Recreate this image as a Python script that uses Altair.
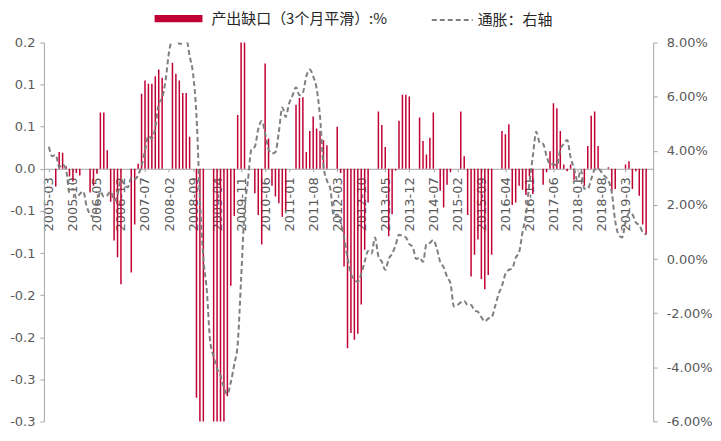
import json
import altair as alt
import pandas as pd

# ---------------- data ----------------
all_months = [f"{y}-{m:02d}" for y in range(2005, 2020) for m in range(1, 13)]
months = all_months[all_months.index("2005-03"): all_months.index("2019-09") + 1]

# output gap (3-month smoothed), left axis
gap = [
    0.0, 0.0, -0.021, 0.020, 0.019, 0.003, -0.009, -0.015, -0.005, -0.008,
    0.0, 0.0, -0.028, -0.020, -0.006, 0.067, 0.067, 0.022, -0.039, -0.085, -0.105, -0.137,
    0.0, 0.0, -0.123, -0.066, 0.006, 0.089, 0.105, 0.101, 0.101, 0.110, 0.118, 0.108,
    0.0, 0.0, 0.126, 0.113, 0.105, 0.090, 0.090, 0.038, 0.0, -0.272, -0.33, -0.34,
    0.0, 0.0, -0.35, -0.36, -0.34, -0.33, -0.27, -0.139, -0.056, 0.064, 0.19, 0.19,
    0.0, 0.0, -0.029, -0.055, -0.090, 0.125, 0.036, -0.020, -0.033, -0.041, -0.057, -0.049,
    0.0, 0.0, 0.076, 0.084, 0.085, 0.020, 0.045, 0.062, 0.048, 0.045, 0.034, 0.028,
    0.0, 0.0, 0.050, -0.005, -0.116, -0.213, -0.195, -0.203, -0.196, -0.161, -0.096, -0.040,
    0.0, 0.0, 0.068, 0.052, 0.026, -0.080, -0.054, -0.002, 0.057, 0.088, 0.088, 0.086,
    0.0, 0.0, 0.061, 0.033, 0.017, 0.037, 0.067, 0.0, -0.026, -0.046, -0.019, -0.004,
    0.0, 0.0, 0.068, 0.015, -0.055, -0.128, -0.102, -0.084, -0.131, -0.143, -0.126, -0.102,
    0.0, 0.0, 0.045, 0.041, 0.053, -0.043, -0.040, -0.020, -0.025, -0.031, -0.009, -0.030,
    0.0, 0.0, -0.019, -0.004, 0.021, 0.078, 0.072, 0.045, 0.005, -0.003, 0.005, -0.013,
    0.0, 0.0, -0.020, 0.027, 0.063, 0.068, 0.027, 0.0, 0.0, 0.002, -0.027, -0.024,
    0.0, 0.0, 0.005, 0.009, -0.024, -0.003, -0.032, -0.066, -0.078,
]

# inflation, right axis (%)
infl = [
    4.15, 3.8, 3.85, 3.4, 3.5, 3.3, 2.45, 2.6, 2.25, 2.4,
    2.5, 1.95, 1.65, 1.55, 1.9, 2.5, 2.3, 2.35, 2.5, 2.15, 2.35, 2.95,
    2.75, 2.65, 3.0, 2.95, 3.1, 3.45, 4.0, 4.55, 4.45, 4.85, 5.75, 5.95,
    6.6, 7.65, 8.15, 8.3, 7.95, 7.95, 8.15, 7.5, 6.85, 5.3, 2.2, 0.05,
    -1.15, -3.05, -3.6, -4.05, -4.3, -4.75, -5.0, -4.55, -3.9, -3.15, -0.75, 1.8,
    2.9, 4.05, 4.15, 4.8, 5.1, 4.65, 4.05, 3.9, 3.95, 4.7, 5.6, 5.25,
    5.75, 6.05, 6.35, 6.05, 6.15, 6.75, 7.0, 6.75, 6.3, 5.25, 3.45, 2.9,
    2.6, 1.6, 1.65, 1.35, 0.8, 0.05, -0.55, -0.75, -0.85, -0.55, -0.1, 0.3,
    0.2, 0.8, 0.1, -0.1, -0.4, 0.0, 0.2, 0.5, 0.9, 0.85, 0.8, 0.55,
    0.45, 0.0, 0.05, -0.1, 0.55, 0.6, 0.7, 0.4, -0.1, -0.3, -0.65, -0.9,
    -1.75, -1.7, -1.6, -1.55, -1.7, -1.7, -1.9, -1.95, -2.15, -2.3, -2.2, -2.15,
    -1.75, -1.3, -1.0, -0.55, -0.4, -0.35, 0.05, 0.25, 1.0, 1.65, 2.8, 3.8,
    4.7, 4.3, 4.25, 3.8, 3.5, 3.5, 3.45, 4.05, 4.25, 4.4, 3.75, 3.35,
    2.9, 3.3, 2.6, 2.6, 2.95, 3.3, 3.35, 3.2, 3.05, 2.9, 2.45, 1.4,
    0.9, 0.8, 1.35, 1.7, 1.65, 1.35, 1.25, 1.0, 0.9,
]

bar_name = "产出缺口（3个月平滑）:%"
line_name = "通胀：右轴"

x_tick_labels = months[::7]
left_ticks = [-0.3, -0.25, -0.2, -0.15, -0.1, -0.05, 0.0, 0.05, 0.1, 0.15]
left_labels = ["-0.3", "-0.3", "-0.2", "-0.2", "-0.1", "-0.1", "0.0", "0.1", "0.1", "0.2"]
right_ticks = [-6, -4, -2, 0, 2, 4, 6, 8]
right_labels = ["-6.00%", "-4.00%", "-2.00%", "0.00%", "2.00%", "4.00%", "6.00%", "8.00%"]

df = pd.DataFrame({
    "idx": list(range(len(months))),
    "month": months,
    "gap": gap,
    "infl": infl,
    "s1": bar_name,
    "s2": line_name,
})

RED = "#C00033"
GRAY_LINE = "#7F7F7F"
AXIS_GRAY = "#A6A6A6"
LABEL_GRAY = "#595959"
NUM_FONT = "DejaVu Sans"
CJK_FONT = "Noto Sans CJK SC"
NUM_SIZE = 13

W, H = 611, 380
PAD_LEFT = 36
zero_offset = -H * 0.3 / 0.45

x_enc = alt.X(
    "idx:Q",
    scale=alt.Scale(domain=[0, 174.6], nice=False, zero=False),
    axis=alt.Axis(
        values=list(range(0, len(months), 7)),
        labelExpr=f"{json.dumps(x_tick_labels)}[round(datum.value/7)]",
        labelAngle=-90,
        labelAlign="right",
        labelBaseline="middle",
        offset=zero_offset,
        title=None,
        grid=False,
        tickSize=3,
        labelPadding=5,
        labelFontSize=NUM_SIZE,
        labelFont=NUM_FONT,
        labelColor=LABEL_GRAY,
        domainColor=AXIS_GRAY,
        tickColor=AXIS_GRAY,
        labelOverlap=False,
    ),
)

bars = alt.Chart(df).mark_bar(width=1.5, clip=True).encode(
    x=x_enc,
    y=alt.Y(
        "gap:Q",
        scale=alt.Scale(domain=[-0.3, 0.15], nice=False),
        axis=alt.Axis(
            orient="left",
            values=left_ticks,
            labelExpr=f"{json.dumps(left_labels)}[round((datum.value+0.3)/0.05)]",
            title=None,
            grid=False,
            tickSize=4,
            labelPadding=5,
            labelFontSize=NUM_SIZE,
            labelFont=NUM_FONT,
            labelColor=LABEL_GRAY,
            domainColor=AXIS_GRAY,
            tickColor=AXIS_GRAY,
        ),
    ),
    color=alt.Color(
        "s1:N",
        scale=alt.Scale(domain=[bar_name], range=[RED]),
        legend=alt.Legend(
            orient="none",
            legendX=155 - 8 - PAD_LEFT,
            legendY=-48,
            title=None,
            padding=0,
            symbolType="M-1,-0.15L1,-0.15L1,0.15L-1,0.15Z",
            symbolSize=2304,
            symbolStrokeWidth=0,
            labelOffset=9,
            labelFont=CJK_FONT,
            labelFontSize=15,
            labelColor="#262626",
            labelLimit=400,
        ),
    ),
)

line = alt.Chart(df).mark_line(
    clip=True, strokeWidth=2, color=GRAY_LINE, interpolate="monotone"
).encode(
    x=x_enc,
    y=alt.Y(
        "infl:Q",
        scale=alt.Scale(domain=[-6, 8], nice=False),
        axis=alt.Axis(
            orient="right",
            values=right_ticks,
            labelExpr=f"{json.dumps(right_labels)}[round((datum.value+6)/2)]",
            title=None,
            grid=False,
            tickSize=4,
            labelPadding=9,
            labelFontSize=NUM_SIZE,
            labelFont=NUM_FONT,
            labelColor=LABEL_GRAY,
            domainColor=AXIS_GRAY,
            tickColor=AXIS_GRAY,
        ),
    ),
    strokeDash=alt.StrokeDash(
        "s2:N",
        scale=alt.Scale(domain=[line_name], range=[[5, 3]]),
        legend=alt.Legend(
            orient="none",
            legendX=432 - 8 - PAD_LEFT,
            legendY=-44,
            title=None,
            padding=0,
            symbolType="stroke",
            symbolSize=1681,
            symbolStrokeColor=GRAY_LINE,
            symbolStrokeWidth=2,
            labelOffset=4,
            labelFont=CJK_FONT,
            labelFontSize=15,
            labelColor="#262626",
            labelLimit=400,
        ),
    ),
)

chart = (
    alt.layer(bars, line)
    .resolve_scale(y="independent")
    .properties(
        width=W,
        height=H,
        autosize=alt.AutoSizeParams(type="none"),
        padding={"left": PAD_LEFT, "top": 34, "right": 60, "bottom": 10},
        background="white",
    )
    .configure_view(stroke=None)
)

chart.save("out.html", embed_options={"renderer": "svg", "actions": False})
